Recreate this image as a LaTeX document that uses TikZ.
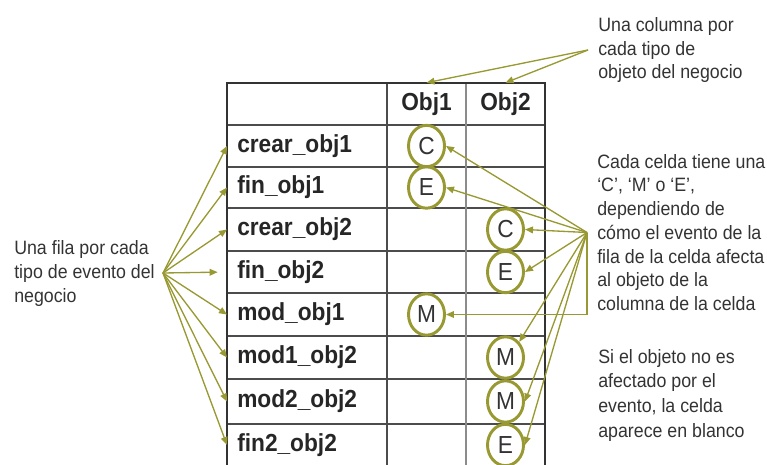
\documentclass[tikz,border=0pt]{standalone}
\usepackage{fontspec}
\setmainfont[FakeStretch=0.92]{Liberation Sans}
\usetikzlibrary{arrows.meta,shapes.geometric}
\definecolor{oliva}{RGB}{153,153,51}
\definecolor{texto}{RGB}{51,51,51}
\tikzset{flecha/.style={draw=oliva, line width=1pt, -{Triangle[length=6pt,width=5pt]}},
 letra/.style={ellipse, draw=oliva, line width=2.2pt, minimum width=27pt, minimum height=31pt,
   inner sep=0pt, text=texto, font=\fontsize{18.5}{20}\selectfont},
 fila/.style={anchor=west, inner xsep=7.5pt, text=black!85, font=\fontsize{18.5}{22}\selectfont\bfseries},
 cabeza/.style={minimum height=31.5pt, inner sep=0pt, text=black!85, font=\fontsize{18.5}{22}\selectfont\bfseries},
 nota/.style={anchor=west, align=left, inner xsep=7.5pt, inner ysep=0pt, text=texto,
   font=\fontsize{14.5}{17.8}\selectfont},
 borde/.style={draw=black!80, line width=2.2pt},
 linea/.style={draw=black!70, line width=1.1pt},
 }

\begin{document}
\begin{tikzpicture}[x=0.75pt, y=-0.75pt]
        \useasboundingbox (0,0) rectangle (767,464);
        \clip (0,0) rectangle (767,464);

        \foreach \y in {125,167,208,251,293,336,379,424} {
            \draw[linea] (227,\y) -- (545,\y);
        }
        \draw[linea] (387,83) -- (387,470);
        \draw[draw=black!45, line width=1.5pt] (466,83) -- (466,470);
        \draw[borde] (227,470) -- (227,83) -- (545,83) -- (545,470);

        \node[cabeza] (h1) at (426.5,104) {Obj1};
        \node[cabeza] (h2) at (505.5,104) {Obj2};

        \foreach \nombre/\y [count=\i] in {crear\_obj1/146, fin\_obj1/187.5, crear\_obj2/229.5,
            fin\_obj2/272, mod\_obj1/314.5, mod1\_obj2/357.5, mod2\_obj2/401.5, fin2\_obj2/445} {
            \node[fila] (r\i) at (227,\y) {\nombre};
        }

        \foreach \x/\y/\t [count=\i] in {426.5/146/C, 426.5/187.5/E, 505.5/229.5/C, 505.5/272/E,
            426.5/314.5/M, 505.5/357.5/M, 505.5/401.5/M, 505.5/445/E} {
            \node[letra] (l\i) at (\x,\y) {\t};
        }

        \node[nota] (nfila) at (4,273.5) {Una fila por cada\\tipo de evento del\\negocio};
        \coordinate (pfila) at (163,273);
        \foreach \i in {1,2,3,5,6,7,8} {
            \draw[flecha] (pfila) -- (r\i.west);
        }
        \draw[flecha, shorten >=7pt] (pfila) -- (r4.west);

        \node[nota] (ncol) at (588,50) {Una columna por\\cada tipo de\\objeto del negocio};
        \draw[flecha] (ncol.west) -- (h1.north);
        \draw[flecha] (ncol.west) -- (h2.north);

        \node[nota] (ncel) at (587,232.5) {Cada celda tiene una\\‘C’, ‘M’ o ‘E’,\\dependiendo de\\cómo el evento de la\\fila de la celda afecta\\al objeto de la\\columna de la celda};
        \foreach \i in {1,2,3,4,7,8} {
            \draw[flecha] (ncel.west) -- (l\i.east);
        }
        \draw[flecha] (ncel.west) -- (l6.north east);
        \draw[flecha] (ncel.west) |- (l5);

        \node[nota, font=\fontsize{14.5}{18.5}\selectfont] (nblanco) at (588,395) {Si el objeto no es\\afectado por el\\evento, la celda\\aparece en blanco};
    \end{tikzpicture}
\end{document}
